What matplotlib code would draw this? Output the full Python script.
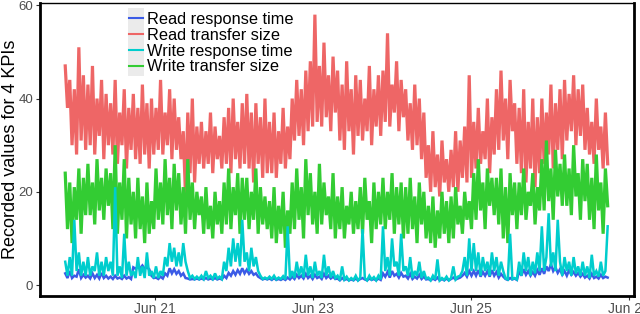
import numpy as np
import pandas as pd
import matplotlib
matplotlib.use("Agg")
import matplotlib.pyplot as plt
import matplotlib.dates as mdates
from matplotlib.patches import Rectangle
from matplotlib.lines import Line2D
from matplotlib.legend_handler import HandlerLine2D

plt.rcParams['font.family'] = ['Liberation Sans', 'DejaVu Sans']

# ---------------- data ----------------
start_time = "2016-06-19 20:40"
end_time = "2016-06-26 17:30"
n_points = 240

series_names = ["Read response time", "Read transfer size",
                "Write response time", "Write transfer size"]

read_transfer = [
    47, 38, 44, 30, 42, 28, 51, 31, 45, 29,
    43, 30, 47, 28, 40, 32, 44, 27, 41, 30,
    39, 28, 44, 26, 37, 30, 42, 25, 38, 29,
    41, 27, 38, 26, 43, 28, 39, 25, 40, 28,
    38, 29, 44, 28, 37, 30, 42, 27, 40, 29,
    36, 27, 33, 19, 37, 24, 40, 22, 34, 26,
    35, 25, 33, 26, 37, 24, 34, 27, 32, 25,
    36, 26, 38, 24, 40, 27, 35, 25, 39, 26,
    41, 25, 37, 22, 39, 26, 36, 23, 40, 24,
    35, 24, 37, 23, 33, 26, 38, 25, 34, 27,
    40, 31, 44, 32, 42, 30, 46, 33, 48, 34,
    58, 35, 47, 34, 52, 36, 45, 33, 49, 37,
    46, 31, 43, 29, 48, 33, 42, 28, 45, 32,
    44, 31, 40, 33, 47, 30, 42, 34, 45, 32,
    46, 35, 54, 34, 43, 37, 48, 33, 44, 36,
    42, 31, 39, 29, 43, 30, 40, 27, 37, 23,
    30, 20, 33, 21, 28, 19, 31, 22, 27, 20,
    29, 21, 33, 20, 31, 23, 34, 22, 45, 23,
    35, 25, 38, 26, 33, 27, 40, 24, 36, 28,
    42, 29, 46, 31, 40, 27, 44, 33, 39, 26,
    38, 24, 42, 22, 35, 25, 40, 21, 36, 24,
    40, 26, 37, 28, 43, 25, 39, 29, 42, 27,
    44, 31, 41, 33, 45, 30, 42, 32, 43, 29,
    38, 28, 35, 26, 40, 29, 34, 25, 37, 26,
]

write_transfer = [
    24, 12, 22, 9, 21, 14, 25, 11, 23, 15,
    26, 15, 22, 13, 27, 16, 23, 14, 25, 17,
    24, 12, 30, 11, 22, 14, 27, 10, 23, 13,
    20, 10, 23, 12, 19, 9, 22, 11, 18, 12,
    25, 14, 22, 13, 27, 15, 23, 12, 26, 16,
    24, 13, 21, 11, 27, 14, 22, 12, 20, 15,
    19, 11, 21, 12, 17, 10, 20, 13, 18, 11,
    22, 13, 25, 12, 21, 15, 24, 11, 23, 14,
    23, 12, 20, 14, 25, 11, 21, 13, 19, 12,
    18, 10, 21, 9, 17, 11, 20, 8, 16, 11,
    22, 12, 25, 14, 21, 10, 27, 15, 24, 13,
    20, 11, 26, 13, 22, 15, 19, 12, 24, 10,
    19, 12, 21, 10, 17, 13, 20, 11, 18, 12,
    21, 11, 23, 14, 18, 9, 22, 12, 20, 13,
    23, 12, 20, 14, 24, 11, 21, 13, 22, 10,
    21, 11, 23, 12, 19, 9, 22, 13, 20, 10,
    17, 9, 19, 8, 16, 10, 20, 11, 18, 9,
    19, 10, 21, 13, 17, 11, 20, 14, 18, 12,
    24, 14, 27, 16, 22, 12, 25, 17, 23, 15,
    23, 13, 25, 10, 21, 9, 24, 15, 22, 12,
    22, 15, 25, 14, 20, 17, 24, 13, 21, 16,
    27, 16, 31, 18, 25, 14, 29, 19, 26, 17,
    28, 17, 25, 15, 30, 19, 24, 14, 27, 18,
    26, 14, 23, 12, 28, 16, 22, 11, 25, 17,
]

write_response = [
    5, 2, 6, 2, 14, 3, 7, 2, 5, 2,
    6, 2, 4, 3, 7, 2, 5, 2, 6, 3,
    5, 2, 21, 2, 4, 1.5, 11, 2, 5, 2,
    3, 1.5, 6, 2, 4, 1.5, 7, 2, 3, 1.5,
    4, 1.5, 3, 2, 6, 4, 9, 5, 8, 4,
    7, 4, 9, 5, 3, 1.5, 2, 1.3, 1.8, 1.3,
    2, 1.3, 3, 1.5, 2, 1.3, 2.5, 1.4, 1.8, 1.3,
    5, 3, 8, 4, 10, 5, 9, 4, 14, 5,
    7, 3, 8, 4, 6, 3, 2, 1.3, 1.6, 1.3,
    1.8, 1.3, 2, 1.2, 1.6, 1.3, 1.9, 1.2, 12.6, 1.5,
    3, 1.5, 5, 2, 4, 1.6, 6.5, 2, 4, 1.5,
    5, 2, 3, 1.5, 6.5, 2, 4, 1.6, 3, 1.5,
    2, 1, 4, 1.2, 1.8, 1, 1.5, 1.1, 2, 1,
    1.6, 12, 1.5, 1, 2, 1.2, 1.7, 1, 2, 1.2,
    12.6, 3, 6, 2, 10, 4, 5, 2, 11, 3,
    4, 2, 6, 1.5, 3, 2, 5, 1.5, 3, 1.4,
    1.6, 1, 2, 1.2, 5.5, 1, 1.5, 1.1, 1.8, 1,
    1.5, 4, 1.2, 1.8, 2, 3, 6, 2, 10, 3,
    9, 3, 7, 2, 6, 3, 5, 2, 7, 3,
    6, 2, 5, 3, 1.4, 1.2, 11, 1.3, 1.5, 1.2,
    5, 2, 7, 3, 6, 2, 5, 2.5, 7, 3,
    12.6, 3, 6, 15.4, 4, 7, 3, 14, 5, 2,
    6, 3, 5, 2, 6, 2.5, 4, 2, 5, 2,
    4, 1.5, 6.5, 2, 3, 1.8, 5, 2, 3, 12.6,
]

read_response = [
    2.5, 1.5, 3, 1.5, 2, 1.8, 3.4, 1.5, 2.2, 1.6,
    2, 1.4, 2.5, 1.5, 2.2, 1.4, 2.6, 1.5, 2, 1.4,
    1.8, 1.3, 2, 1.4, 1.6, 1.3, 2, 1.4, 1.7, 1.3,
    3.8, 3.5, 4, 3.6, 4.2, 3.5, 3.8, 3.4, 2, 1.5,
    1.6, 1.3, 1.8, 1.4, 2.5, 2, 3.6, 2.5, 3.4, 2.4,
    3, 2, 2.5, 1.5, 1.4, 1.2, 1.3, 1.2, 1.4, 1.2,
    1.4, 1.2, 1.5, 1.2, 1.4, 1.2, 1.5, 1.2, 1.4, 1.2,
    2, 1.5, 2.6, 2, 3, 2.2, 3.2, 2.4, 3.6, 2.5,
    3.3, 2.4, 3, 2.2, 2.5, 1.8, 1.5, 1.2, 1.4, 1.2,
    1.4, 1.1, 1.5, 1.1, 1.3, 1.1, 1.4, 1.1, 1.6, 1.2,
    1.8, 1.3, 2.2, 1.5, 2, 1.4, 2.4, 1.5, 2, 1.3,
    2.2, 1.5, 1.8, 1.3, 2.4, 1.5, 2, 1.4, 1.8, 1.3,
    1.4, 1, 1.5, 1.1, 1.3, 1, 1.2, 1, 1.4, 1,
    1.3, 1.5, 1.2, 1, 1.4, 1.1, 1.3, 1, 1.4, 1.1,
    2.5, 1.8, 2.8, 1.6, 3, 2, 2.4, 1.6, 2.6, 1.8,
    2, 1.4, 2.4, 1.3, 1.8, 1.4, 2.2, 1.3, 1.8, 1.2,
    1.3, 1, 1.4, 1.1, 1.6, 1, 1.3, 1, 1.4, 1,
    1.3, 1.6, 1.2, 1.4, 1.6, 2, 2.6, 1.8, 3, 2,
    3, 2, 3.2, 1.8, 2.8, 2, 3, 1.8, 3.2, 2,
    2.8, 1.6, 2.4, 1.8, 1.3, 1.1, 1.5, 1.2, 1.4, 1.1,
    3, 2, 3.4, 2.2, 3, 2, 2.8, 2, 3.2, 2.2,
    3.6, 2.4, 4, 3, 4.5, 3, 3.8, 2.6, 3.4, 2.2,
    3, 2, 3.2, 2.2, 2.8, 2, 2.6, 1.8, 2.4, 1.6,
    2, 1.4, 2.4, 1.5, 1.8, 1.4, 2.2, 1.5, 1.8, 1.6,
]

tick_dates = ["2016-06-21", "2016-06-23", "2016-06-25", "2016-06-27"]
x_limits = ["2016-06-19 13:00", "2016-06-27 01:30"]
y_ticks = [0, 20, 40, 60]

colors = {"Read response time": "#3B5BE6",
          "Read transfer size": "#EE6666",
          "Write response time": "#00CDCD",
          "Write transfer size": "#33CC33"}

# ---------------- plot ----------------
times = pd.date_range(start_time, end_time, periods=n_points)
df = pd.DataFrame({"time": times,
                   "Read response time": read_response,
                   "Read transfer size": read_transfer,
                   "Write response time": write_response,
                   "Write transfer size": write_transfer})

fig = plt.figure(figsize=(6.4, 3.14), dpi=100)
ax = fig.add_axes([40 / 640, 1 - 296 / 314, (634 - 40) / 640, (296 - 3) / 314])

widths = {"Read transfer size": 2.3, "Write transfer size": 2.3,
          "Read response time": 1.8, "Write response time": 1.8}
handles = {}
for name in ["Read transfer size", "Write transfer size",
             "Read response time", "Write response time"]:
    (h,) = ax.plot(df["time"], df[name], color=colors[name],
                   lw=widths[name], solid_joinstyle="miter")
    handles[name] = h

ax.set_xlim(pd.Timestamp(x_limits[0]), pd.Timestamp(x_limits[1]))
ax.set_ylim(-2.35, 60.5)
ax.set_yticks(y_ticks)
ax.set_xticks([pd.Timestamp(d) for d in tick_dates])
ax.xaxis.set_major_formatter(mdates.DateFormatter("%b %d"))

ax.tick_params(axis="both", direction="out", length=3, width=0.8,
               color="#333333", labelcolor="#4D4D4D", labelsize=9.5, pad=2)
ax.tick_params(axis="x", labelsize=10, pad=1.5)
ax.set_ylabel("Recorded values for 4 KPIs", fontsize=13, color="black")
ax.yaxis.set_label_coords(-0.036, 0.5)

for side in ["left", "bottom", "right"]:
    ax.spines[side].set_linewidth(2.0)
ax.spines["top"].set_linewidth(1.0)
for s in ax.spines.values():
    s.set_color("black")


class KeyHandler(HandlerLine2D):
    def create_artists(self, legend, orig_handle, xdescent, ydescent,
                       width, height, fontsize, trans):
        rect = Rectangle((-xdescent, -ydescent - 3), width, height + 6,
                         facecolor="#EBEBEB", edgecolor="none",
                         transform=trans)
        line = Line2D([-xdescent + 1, -xdescent + width - 1],
                      [height / 2 - ydescent] * 2,
                      color=orig_handle.get_color(), lw=1.5,
                      transform=trans)
        return [rect, line]


leg = ax.legend([handles[n] for n in series_names], series_names,
                loc="upper left",
                bbox_to_anchor=(128 / 640, 1 - 12 / 314),
                bbox_transform=fig.transFigure,
                frameon=False, fontsize=11.8, handlelength=1.0,
                handletextpad=0.15, labelspacing=0.05, borderpad=0,
                borderaxespad=0,
                handler_map={Line2D: KeyHandler()})

fig.savefig("out.png", dpi=100)
